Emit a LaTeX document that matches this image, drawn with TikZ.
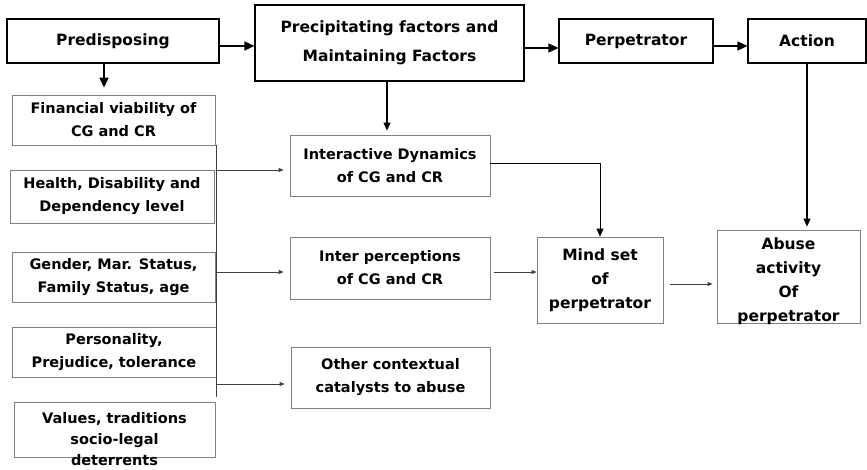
\documentclass[tikz,border=0pt]{standalone}
\usepackage{fontspec}
\setmainfont{DejaVu Sans}
\usepackage{tikz}
\usetikzlibrary{arrows.meta}

\begin{document}
\begin{tikzpicture}[x=1pt,y=-1pt,
    topbox/.style={draw=black,line width=1.1pt,align=center,inner sep=0pt,font=\bfseries\fontsize{15.5}{29}\selectfont},
    lowbox/.style={draw=black!50,line width=0.8pt,align=center,inner sep=0pt,font=\bfseries\fontsize{14.5}{23}\selectfont},
    lowtext/.style={align=center,inner sep=0pt,font=\bfseries\fontsize{14.5}{21}\selectfont},
    bigarrow/.style={line width=1.5pt,-{Triangle[length=10pt,width=9pt]}},
    midarrow/.style={line width=1.1pt,-{Triangle[length=8pt,width=7pt]}},
    smallarrow/.style={draw=black!75,line width=0.8pt,-{Triangle[length=5pt,width=4pt]}}]
\useasboundingbox (0,0) rectangle (867,470);
%top row
\begin{scope}[every node/.style={topbox}]
    \node[minimum width=212pt,minimum height=44pt] (a) at (113,41) {Predisposing};
    \node[minimum width=269pt,minimum height=76pt] (b) at (389.5,43) {Precipitating factors and\\Maintaining Factors};
    \node[minimum width=154pt,minimum height=44pt] (c) at (636,41) {Perpetrator};
    \node[minimum width=118pt,minimum height=44pt] (d) at (807,41) {Action};
\end{scope}

%left column
\begin{scope}[every node/.style={lowbox}]
    \node[minimum width=203pt,minimum height=50pt] (e) at (113.5,120) {Financial viability of\\CG and CR};
    \node[minimum width=204pt,minimum height=53pt] (f) at (112,196.5) {Health, Disability and\\Dependency level};
    \node[minimum width=203pt,minimum height=50pt] (g) at (113.5,277) {Gender, Mar. Status,\\Family Status, age};
    \node[minimum width=204pt,minimum height=50pt] (h) at (114,352) {Personality,\\Prejudice, tolerance};
    \node[minimum width=201pt,minimum height=55pt] (i) at (114.5,429.5) {};
%middle and right
    \node[minimum width=200pt,minimum height=61pt] (j) at (390,165.5) {Interactive Dynamics\\of CG and CR};
    \node[minimum width=200pt,minimum height=62pt] (k) at (390,268) {Inter perceptions\\of CG and CR};
    \node[minimum width=199pt,minimum height=61pt] (l) at (390.5,377.5) {Other contextual\\catalysts to abuse};
    \node[minimum width=126pt,minimum height=86pt,font=\bfseries\fontsize{15.5}{24}\selectfont] (m) at (600,280) {Mind set\\of\\perpetrator};
    \node[minimum width=143pt,minimum height=93pt] (n) at (788.5,276.5) {};
\end{scope}
\node[lowtext] (it) at (114.5,439) {Values, traditions\\socio-legal\\deterrents};
\node[lowtext,font=\bfseries\fontsize{15.5}{24}\selectfont] (nt) at (788.5,281) {Abuse\\activity\\Of\\perpetrator};

\coordinate (t1) at (216,145);
\coordinate (t2) at (216,397);
\coordinate (u1) at (216,170);
\coordinate (u2) at (216,272);
\coordinate (u3) at (216,384);

\begin{scope}[every edge/.style={draw=black}]
    \path ([yshift=-5pt]a.east) edge[bigarrow] ([yshift=-5pt]a.east -| b.west);
    \path ([yshift=-7pt]c.west -| b.east) edge[bigarrow] ([yshift=-7pt]c.west);
    \path ([yshift=-5pt]c.east) edge[bigarrow] ([yshift=-5pt]c.east -| d.west);
    \path ([xshift=-9pt]a.south) edge[bigarrow] ([xshift=-9pt,yshift=7pt]a.south |- e.north);
    \path ([xshift=-2.5pt]b.south) edge[midarrow,shorten >=4pt] ([xshift=-2.5pt]b.south |- j.north);
    \path (d.south) edge[midarrow,shorten >=3pt] (d.south |- n.north);
    \draw [midarrow,line width=0.9pt] ([yshift=2.5pt]j.east) -| (m.north);

    \draw [draw=black!75,line width=0.9pt] (t1) -- (t2);
    \path (u1) edge[smallarrow,shorten >=6pt] (u1 -| j.west);
    \path (u2) edge[smallarrow,shorten >=6pt] (u2 -| k.west);
    \path (u3) edge[smallarrow,shorten >=6pt] (u3 -| l.west);
    \path ([yshift=-4pt]k.east) edge[smallarrow,shorten <=4pt] ([yshift=-4pt]k.east -| m.west);
    \path ([yshift=-4pt]m.east) edge[smallarrow,shorten <=7pt,shorten >=4pt] ([yshift=-4pt]m.east -| n.west);
\end{scope}
\end{tikzpicture}
\end{document}
